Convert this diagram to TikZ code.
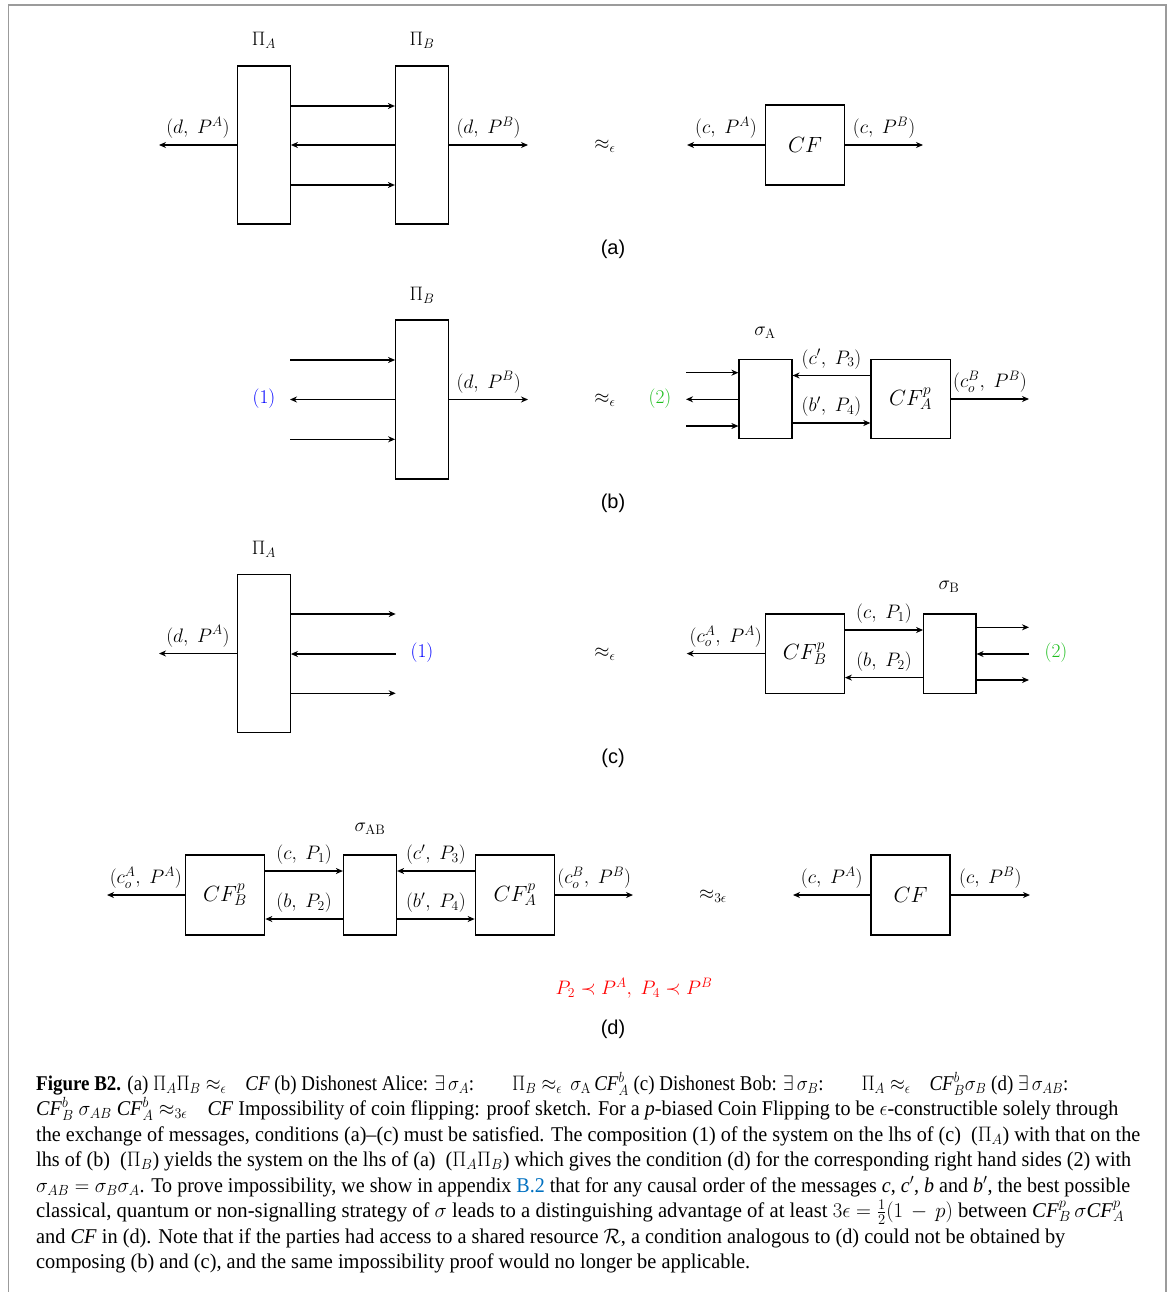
\documentclass[tikz,border=0pt]{standalone}
\usepackage{fix-cm}
\usepackage{fontspec}
\usepackage{graphicx}
\usetikzlibrary{arrows.meta}
\newfontfamily\capfont{Liberation Serif}
\newfontfamily\panelfont{Liberation Sans}
\definecolor{linkblue}{RGB}{0,112,192}
\definecolor{framegray}{RGB}{155,155,155}
\definecolor{numgreen}{RGB}{30,190,30}
\newcommand{\capline}[2]{\resizebox{#1pt}{\height}{#2}}
\begin{document}
\begin{tikzpicture}[x=1pt,y=-1pt,
  blk/.style={draw, line width=1.2pt, inner sep=0pt, font=\fontsize{22}{26}\selectfont},
  arr/.style={line width=1.2pt, -{Stealth[length=7pt,width=6pt,inset=2.2pt]}},
  lab/.style={font=\fontsize{19.5}{23}\selectfont, inner sep=1pt, above=5pt},
  ttl/.style={font=\fontsize{19.5}{23}\selectfont, inner sep=0pt},
  pan/.style={font=\panelfont\fontsize{20}{24}\selectfont, inner sep=0pt},
  captext/.style={font=\capfont\fontsize{21}{25}\selectfont, anchor=base west, inner sep=0pt}]
\useasboundingbox (0,0) rectangle (1173,1292);
% frame
\coordinate (f1) at (8.5,1292);
\coordinate (f2) at (8.5,5);
\coordinate (f3) at (1166,5);
\coordinate (f4) at (1166,1292);
\draw[framegray, line width=1.6pt] (f1) -- (f2) -- (f3) -- (f4);

% ---------------- (a)
\node[blk, minimum width=53pt, minimum height=158pt] (PA) at (263.8,145) {};
\node[blk, minimum width=53pt, minimum height=158pt] (PB) at (422,145) {};
\node[ttl] (tPA) at (263.8,40) {$\Pi_A$};
\node[ttl] (tPB) at (422,40) {$\Pi_B$};
\draw[arr] ([yshift=39pt]PA.east) -- ([yshift=39pt]PB.west);
\draw[arr] (PB.west) -- (PA.east);
\draw[arr] ([yshift=-40pt]PA.east) -- ([yshift=-40pt]PB.west);
\coordinate (aL) at (159,145);
\coordinate (aR) at (528,145);
\draw[arr] (PA.west) -- node[lab] {$(d,\;P^A)$} (aL);
\draw[arr] (PB.east) -- node[lab] {$(d,\;P^B)$} (aR);
\node[ttl] (apx1) at (605,146) {$\approx_\epsilon$};
\node[blk, minimum width=79pt, minimum height=80pt] (CFa) at (805,145) {$CF$};
\coordinate (aL2) at (687,145);
\coordinate (aR2) at (923,145);
\draw[arr] (CFa.west) -- node[lab] {$(c,\;P^A)$} (aL2);
\draw[arr] (CFa.east) -- node[lab] {$(c,\;P^B)$} (aR2);
\node[pan] (pa) at (613,249) {(a)};

% ---------------- (b)
\node[blk, minimum width=53pt, minimum height=159pt] (PB2) at (422.2,399.5) {};
\node[ttl] (tPB2) at (422,295) {$\Pi_B$};
\coordinate (b1) at (290,360);
\coordinate (b2) at (290,399.5);
\coordinate (b3) at (290,439.3);
\draw[arr] (b1) -- (b1 -| PB2.west);
\draw[arr] (PB2.west) -- (b2);
\draw[arr] (b3) -- (b3 -| PB2.west);
\node[ttl, text=blue] (one1) at (264,399) {$(1)$};
\coordinate (bR) at (528,399.5);
\draw[arr] (PB2.east) -- node[lab] {$(d,\;P^B)$} (bR);
\node[ttl] (apx2) at (605,400) {$\approx_\epsilon$};
\node[ttl, text=numgreen] (two1) at (660,399) {$(2)$};
\node[blk, minimum width=53pt, minimum height=79.5pt] (sA) at (765.5,399) {};
\node[ttl] (tsA) at (765,333) {$\sigma_{\mathrm{A}}$};
\node[blk, minimum width=79.3pt, minimum height=79.5pt] (CFA) at (910.6,399) {$CF_A^p$};
\draw[arr] ([yshift=23.5pt]CFA.west) -- node[lab] {$(c',\;P_3)$} ([yshift=23.5pt]sA.east);
\draw[arr] ([yshift=-24pt]sA.east) -- node[lab] {$(b',\;P_4)$} ([yshift=-24pt]CFA.west);
\coordinate (s1) at (686,372.7);
\coordinate (s2) at (686,399.3);
\coordinate (s3) at (686,426);
\draw[arr] (s1) -- (s1 -| sA.west);
\draw[arr] (s2 -| sA.west) -- (s2);
\draw[arr] (s3) -- (s3 -| sA.west);
\coordinate (bR2) at (1029,399);
\draw[arr] (CFA.east) -- node[lab] {$(c_o^B,\;P^B)$} (bR2);
\node[pan] (pb) at (613,503) {(b)};

% ---------------- (c)
\node[blk, minimum width=53pt, minimum height=158.5pt] (PA3) at (263.8,653.5) {};
\node[ttl] (tPA3) at (263.8,549) {$\Pi_A$};
\coordinate (c1) at (395.7,614);
\coordinate (c2) at (395.7,654);
\coordinate (c3) at (395.7,693.3);
\draw[arr] (c1 -| PA3.east) -- (c1);
\draw[arr] (c2) -- (c2 -| PA3.east);
\draw[arr] (c3 -| PA3.east) -- (c3);
\node[ttl, text=blue] (one2) at (422,653) {$(1)$};
\coordinate (cL) at (159,653.5);
\draw[arr] (PA3.west) -- node[lab] {$(d,\;P^A)$} (cL);
\node[ttl] (apx3) at (605,654) {$\approx_\epsilon$};
\node[blk, minimum width=79pt, minimum height=79.3pt] (CFB) at (804.8,653.6) {$CF_B^p$};
\node[blk, minimum width=52.3pt, minimum height=79.3pt] (sB) at (949.8,653.6) {};
\node[ttl] (tsB) at (949,587) {$\sigma_{\mathrm{B}}$};
\draw[arr] ([yshift=23.6pt]CFB.east) -- node[lab] {$(c,\;P_1)$} ([yshift=23.6pt]sB.west);
\draw[arr] ([yshift=-24pt]sB.west) -- node[lab] {$(b,\;P_2)$} ([yshift=-24pt]CFB.east);
\coordinate (r1) at (1029,627.3);
\coordinate (r2) at (1029,654);
\coordinate (r3) at (1029,680);
\draw[arr] (r1 -| sB.east) -- (r1);
\draw[arr] (r2) -- (r2 -| sB.east);
\draw[arr] (r3 -| sB.east) -- (r3);
\node[ttl, text=numgreen] (two2) at (1056,653) {$(2)$};
\coordinate (cL2) at (686.7,653.6);
\draw[arr] (CFB.west) -- node[lab] {$(c_o^A,\;P^A)$} (cL2);
\node[pan] (pc) at (613,758) {(c)};

% ---------------- (d)
\node[blk, minimum width=79.5pt, minimum height=80pt] (CFBd) at (225,895) {$CF_B^p$};
\node[blk, minimum width=53pt, minimum height=80pt] (sAB) at (370,895) {};
\node[blk, minimum width=79.5pt, minimum height=80pt] (CFAd) at (515,895) {$CF_A^p$};
\node[ttl] (tsAB) at (370,829) {$\sigma_{\mathrm{AB}}$};
\draw[arr] ([yshift=24pt]CFBd.east) -- node[lab] {$(c,\;P_1)$} ([yshift=24pt]sAB.west);
\draw[arr] ([yshift=-24pt]sAB.west) -- node[lab] {$(b,\;P_2)$} ([yshift=-24pt]CFBd.east);
\draw[arr] ([yshift=24pt]CFAd.west) -- node[lab] {$(c',\;P_3)$} ([yshift=24pt]sAB.east);
\draw[arr] ([yshift=-24pt]sAB.east) -- node[lab] {$(b',\;P_4)$} ([yshift=-24pt]CFAd.west);
\coordinate (dL) at (107,895);
\coordinate (dR) at (633,895);
\draw[arr] (CFBd.west) -- node[lab] {$(c_o^A,\;P^A)$} (dL);
\draw[arr] (CFAd.east) -- node[lab] {$(c_o^B,\;P^B)$} (dR);
\node[ttl] (apx4) at (713,896) {$\approx_{3\epsilon}$};
\node[blk, minimum width=79pt, minimum height=80pt] (CFd) at (910.5,895) {$CF$};
\coordinate (dL2) at (793,895);
\coordinate (dR2) at (1030,895);
\draw[arr] (CFd.west) -- node[lab] {$(c,\;P^A)$} (dL2);
\draw[arr] (CFd.east) -- node[lab] {$(c,\;P^B)$} (dR2);
\node[ttl, text=red] (cond) at (634,988) {$P_2\prec P^A,\;P_4\prec P^B$};
\node[pan] (pd) at (613,1029) {(d)};

% ---------------- caption
\node[captext] (L1) at (36,1090) {\capline{1032}{\textbf{Figure B2.} (a) $\Pi_A\Pi_B\approx_\epsilon$\quad \textit{CF} (b) Dishonest Alice: $\exists\,\sigma_A$:\qquad $\Pi_B\approx_\epsilon\,\sigma_{\mathrm{A}}\,$\textit{CF}$^b_A$ (c) Dishonest Bob: $\exists\,\sigma_B$:\qquad $\Pi_A\approx_\epsilon$\quad \textit{CF}$^b_B\sigma_B$ (d) $\exists\,\sigma_{AB}$:}};
\node[captext] (L2) at (36,1115.5) {\capline{1082}{\textit{CF}$^b_B$ $\sigma_{AB}$ \textit{CF}$^b_A\approx_{3\epsilon}$\quad \textit{CF} Impossibility of coin flipping: proof sketch. For a \textit{p}-biased Coin Flipping to be $\epsilon$-constructible solely through}};
\node[captext] (L3) at (36,1141) {\capline{1104}{the exchange of messages, conditions (a)\textendash(c) must be satisfied. The composition (1) of the system on the lhs of (c) \ ($\Pi_A$) with that on the}};
\node[captext] (L4) at (36,1166.5) {\capline{1095}{lhs of (b) \ ($\Pi_B$) yields the system on the lhs of (a) \ ($\Pi_A\Pi_B$) which gives the condition (d) for the corresponding right hand sides (2) with}};
\node[captext] (L5) at (36,1192) {\capline{1094}{$\sigma_{AB}=\sigma_B\sigma_A$. To prove impossibility, we show in appendix \textcolor{linkblue}{B.2} that for any causal order of the messages \textit{c}, \textit{c}$'$, \textit{b} and \textit{b}$'$, the best possible}};
\node[captext] (L6) at (36,1217.5) {\capline{1088}{classical, quantum or non-signalling strategy of $\sigma$ leads to a distinguishing advantage of at least $3\epsilon=\frac{1}{2}(1\,-\,p)$ between \textit{CF}$^p_B\,\sigma$\textit{CF}$^p_A$}};
\node[captext] (L7) at (36,1243) {\capline{1029}{and \textit{CF} in (d). Note that if the parties had access to a shared resource $\mathcal{R}$, a condition analogous to (d) could not be obtained by}};
\node[captext] (L8) at (36,1268.5) {\capline{714}{composing (b) and (c), and the same impossibility proof would no longer be applicable.}};
\end{tikzpicture}
\end{document}
